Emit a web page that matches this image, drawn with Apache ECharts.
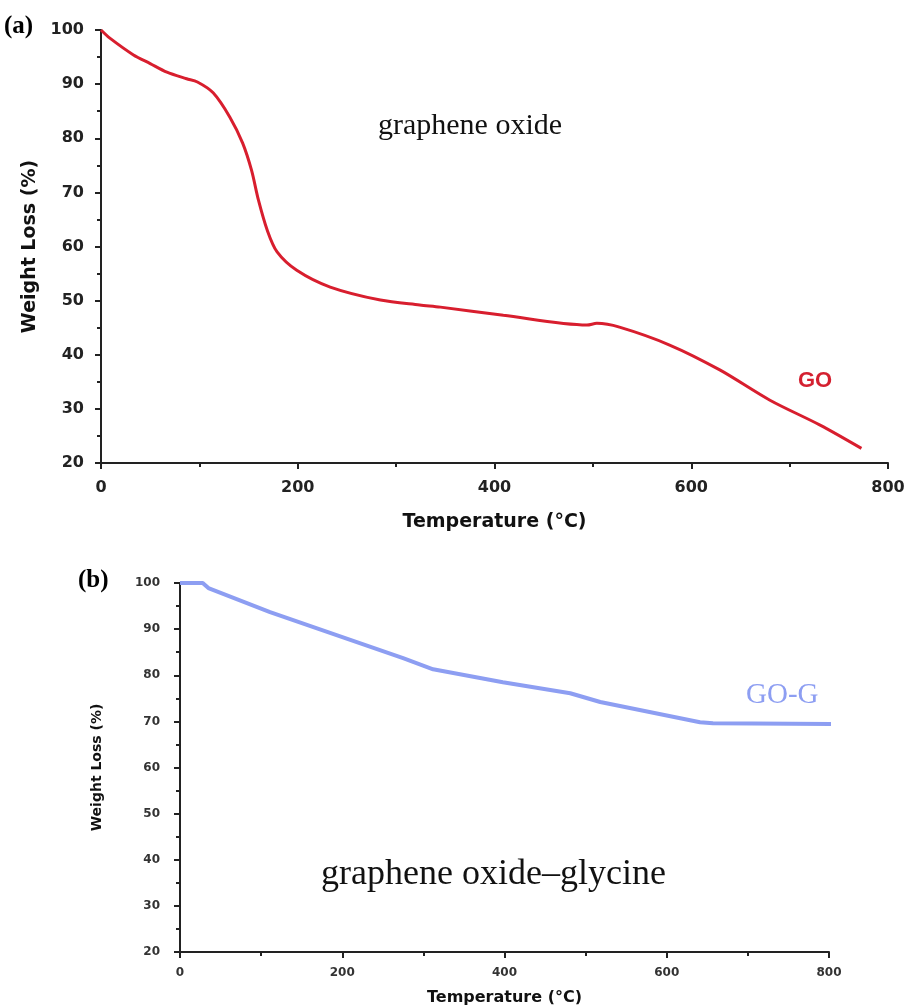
<!DOCTYPE html>
<html><head><meta charset="utf-8">
<script src="https://cdn.jsdelivr.net/npm/echarts@6/dist/echarts.min.js"></script>
<style>html,body{margin:0;padding:0;background:#fff}#c{width:912px;height:1007px}</style>
</head><body><div id="c"></div>
<script>
// Panel (a): graphene oxide
const goTemp = [0, 9, 33, 50, 67, 87, 98, 114, 131, 144, 153, 160, 169, 179, 199, 233, 284, 324, 345, 409, 494, 504, 527, 578, 629, 680, 731, 773];
const goWeight = [100, 98.5, 95.4, 93.8, 92.2, 91.0, 90.4, 88.4, 83.9, 79.1, 74.1, 68.6, 63.0, 59.0, 55.6, 52.5, 50.1, 49.2, 48.8, 47.3, 45.5, 45.8, 45.1, 41.8, 37.2, 31.6, 27.0, 22.7];
// Panel (b): graphene oxide–glycine
const gogTemp = [0, 28, 35, 111, 193, 275, 312, 398, 481, 518, 641, 657, 814];
const gogWeight = [100, 100, 98.9, 93.7, 88.7, 83.7, 81.3, 78.5, 76.1, 74.2, 69.8, 69.6, 69.4];
const xTicks = [0, 200, 400, 600, 800];
const yTicks = [20, 30, 40, 50, 60, 70, 80, 90, 100];

const chart = echarts.init(document.getElementById('c'), null, {renderer: 'canvas'});
const sans = 'DejaVu Sans';
function axisBase() {
  return {
    axisLine: {show: true, onZero: false, lineStyle: {color: '#222', width: 2}},
    axisTick: {show: true, inside: false, length: 6, lineStyle: {color: '#222', width: 2}},
    minorTick: {show: true, splitNumber: 2, length: 4, lineStyle: {color: '#222', width: 2}},
    splitLine: {show: false}
  };
}
const pairs = (xs, ys) => xs.map((x, i) => [x, ys[i]]);
chart.setOption({
  animation: false,
  grid: [
    {left: 101, top: 30, right: 24, height: 433},
    {left: 180, top: 583, right: 83, height: 369}
  ],
  xAxis: [
    Object.assign(axisBase(), {gridIndex: 0, type: 'value', min: 0, max: 800, interval: 200,
      name: 'Temperature (°C)', nameLocation: 'middle', nameGap: 50,
      nameTextStyle: {fontFamily: sans, fontWeight: 'bold', fontSize: 19, color: '#111'},
      axisLabel: {fontFamily: sans, fontWeight: 'bold', fontSize: 16, color: '#222', margin: 17}}),
    Object.assign(axisBase(), {gridIndex: 1, type: 'value', min: 0, max: 800, interval: 200,
      name: 'Temperature (°C)', nameLocation: 'middle', nameGap: 38,
      nameTextStyle: {fontFamily: sans, fontWeight: 'bold', fontSize: 16, color: '#111'},
      axisLabel: {fontFamily: sans, fontWeight: 'bold', fontSize: 12, color: '#333', margin: 15}})
  ],
  yAxis: [
    Object.assign(axisBase(), {gridIndex: 0, type: 'value', min: 20, max: 100, interval: 10,
      name: 'Weight Loss (%)', nameLocation: 'middle', nameGap: 58, nameRotate: 90,
      nameTextStyle: {fontFamily: sans, fontWeight: 'bold', fontSize: 19, color: '#111'},
      axisLabel: {fontFamily: sans, fontWeight: 'bold', fontSize: 16, color: '#222', margin: 17}}),
    Object.assign(axisBase(), {gridIndex: 1, type: 'value', min: 20, max: 100, interval: 10,
      name: 'Weight Loss (%)', nameLocation: 'middle', nameGap: 76, nameRotate: 90,
      nameTextStyle: {fontFamily: sans, fontWeight: 'bold', fontSize: 14, color: '#111'},
      axisLabel: {fontFamily: sans, fontWeight: 'bold', fontSize: 12, color: '#333', margin: 20}})
  ],
  series: [
    {type: 'line', xAxisIndex: 0, yAxisIndex: 0, data: pairs(goTemp, goWeight), smooth: 0.3,
      showSymbol: false, lineStyle: {color: '#d81e2e', width: 3}, clip: false},
    {type: 'line', xAxisIndex: 1, yAxisIndex: 1, data: pairs(gogTemp, gogWeight), smooth: false,
      showSymbol: false, lineStyle: {color: '#8d9ef2', width: 4}, clip: false}
  ],
  graphic: [
    {type: 'text', left: 4, top: 14, style: {text: '(a)', font: 'bold 25px "Liberation Serif"', fill: '#000'}},
    {type: 'text', left: 78, top: 568, style: {text: '(b)', font: 'bold 25px "Liberation Serif"', fill: '#000'}},
    {type: 'text', left: 378, top: 111, style: {text: 'graphene oxide', font: '30px "Liberation Serif"', fill: '#111'}},
    {type: 'text', left: 798, top: 370, style: {text: 'GO', font: 'bold 22px "Liberation Sans"', fill: '#d42030'}},
    {type: 'text', left: 321, top: 857, style: {text: 'graphene oxide–glycine', font: '36px "Liberation Serif"', fill: '#111'}},
    {type: 'text', left: 746, top: 681, style: {text: 'GO-G', font: '29px "Liberation Serif"', fill: '#8d9ef2'}}
  ]
});
</script></body></html>
